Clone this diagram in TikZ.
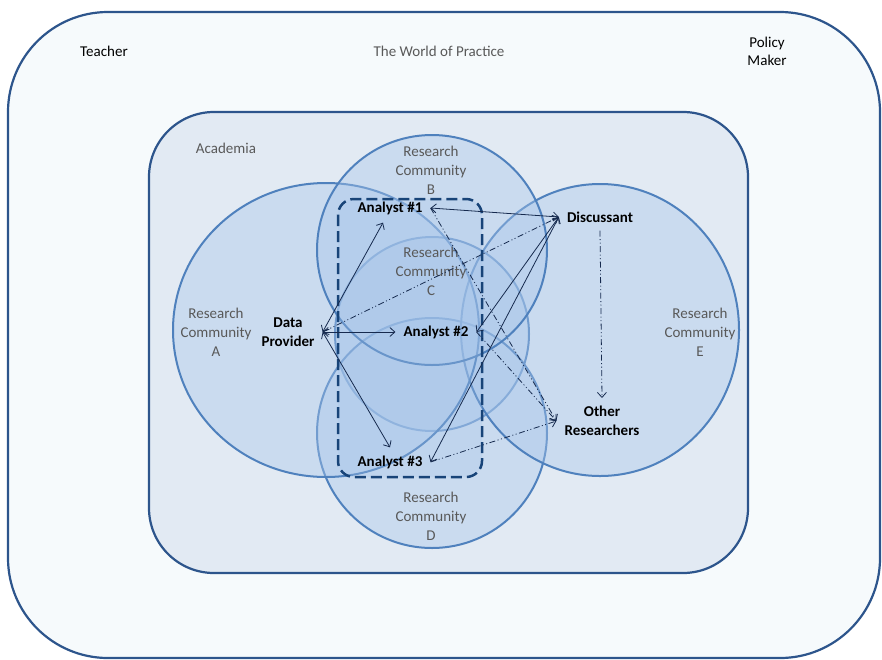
\documentclass[tikz,border=0pt]{standalone}
\usepackage{fontspec}
\setmainfont{Carlito}
\usetikzlibrary{arrows.meta}

\definecolor{practice}{RGB}{246,250,252}
\definecolor{academia}{RGB}{226,234,243}
\definecolor{community}{RGB}{168,198,234}
\definecolor{ringline}{RGB}{79,129,189}
\definecolor{frameline}{RGB}{45,85,140}
\definecolor{teamline}{RGB}{24,68,120}
\definecolor{flowline}{RGB}{22,42,78}
\definecolor{labelgrey}{RGB}{89,89,89}

\newcommand{\labelsize}{\fontsize{15}{19}\selectfont}

\tikzset{
	frame/.style={draw=frameline,line width=2.2pt},
	community/.style={draw=ringline,line width=2pt,fill=community,fill opacity=0.4},
	actor/.style={font=\labelsize\bfseries,align=center,inner sep=8pt},
	grouplabel/.style={font=\labelsize,text=labelgrey,align=center},
	person/.style={font=\labelsize,align=center},
	flow/.style={draw=flowline,line width=0.8pt,{Straight Barb[length=5pt,width=9pt]}-{Straight Barb[length=5pt,width=9pt]}},
	feedback/.style={draw=flowline,line width=0.8pt,-{Straight Barb[length=5pt,width=9pt]},
		dash pattern=on 6pt off 2.5pt on 1pt off 2.5pt on 1pt off 2.5pt}
}

\begin{document}
\begin{tikzpicture}[x=1pt,y=-1pt]
		\useasboundingbox (0,0) rectangle (882,659);
		% World of practice and academia
		\draw [frame,fill=practice,rounded corners=100pt] (8,12) rectangle (880,658);
		\draw [frame,fill=academia,rounded corners=65pt] (149,112) rectangle (748,573);
		% Research communities
		\draw [community] (432,334) circle [radius=97pt];
		\draw [community] (432,433) circle [radius=115pt];
		\draw [community] (600,330) ellipse [x radius=139pt,y radius=146pt];
		\draw [community] (326,330) ellipse [x radius=153pt,y radius=147pt];
		\draw [community] (432,250) circle [radius=115pt];
		% Analyst team
		\draw [draw=teamline,line width=2.5pt,dash pattern=on 11pt off 5pt,fill=community,fill opacity=0.3,
			rounded corners=16pt] (338,199) rectangle (482,477);
		% Labels
		\node [person] (teacher) at (104,51) {Teacher};
		\node [grouplabel] (world) at (439,51) {The World of Practice};
		\node [person,font=\fontsize{15}{18}\selectfont] (policy) at (767,51) {Policy\\Maker};
		\node [grouplabel] (acad) at (226,148) {Academia};
		\node [grouplabel] (rca) at (216,332) {Research\\Community\\A};
		\node [grouplabel] (rcb) at (431,170) {Research\\Community\\B};
		\node [grouplabel] (rcc) at (431,271) {Research\\Community\\C};
		\node [grouplabel] (rcd) at (431,516) {Research\\Community\\D};
		\node [grouplabel] (rce) at (700,332) {Research\\Community\\E};
		% Actors
		\node [actor] (dp) at (288,332) {Data\\Provider};
		\node [actor] (a1) at (390,208) {Analyst \#1};
		\node [actor] (a2) at (436,332) {Analyst \#2};
		\node [actor] (a3) at (390,462) {Analyst \#3};
		\node [actor] (disc) at (600,217) {Discussant};
		\node [actor] (other) at (602,421) {Other\\Researchers};
		% Exchanges
		\draw [flow] (dp.east) -- ([xshift=-7pt]a1.south);
		\draw [flow] (dp.east) -- (a2.west);
		\draw [flow] (dp.east) -- (a3.north);
		\draw [flow] (a1.east) -- (disc.west);
		\draw [flow] (a2.east) -- (disc.west);
		\draw [flow] (a3.east) -- (disc.west);
		% Feedback
		\draw [feedback] (dp.east) -- (disc.west);
		\draw [feedback] (a1.east) -- (other.west);
		\draw [feedback] (a2.east) -- (other.west);
		\draw [feedback] (a3.east) -- (other.west);
		\draw [feedback] (disc.south) -- (other.north);
	\end{tikzpicture}
\end{document}
